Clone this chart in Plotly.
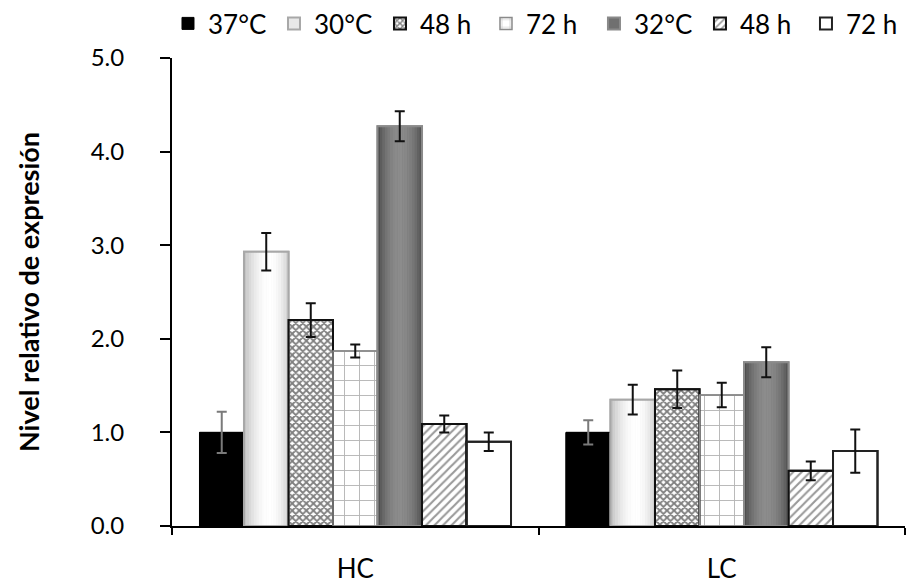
import plotly.graph_objects as go

# Relative expression levels by condition and group
groups = ["HC", "LC"]
series_names = ["37°C", "30°C", "48 h", "72 h", "32°C", "48 h", "72 h"]
values = [
    [1.00, 1.00],
    [2.93, 1.35],
    [2.20, 1.46],
    [1.87, 1.40],
    [4.27, 1.75],
    [1.09, 0.59],
    [0.90, 0.80],
]
errors = [
    [0.22, 0.13],
    [0.20, 0.16],
    [0.18, 0.20],
    [0.07, 0.13],
    [0.16, 0.16],
    [0.09, 0.10],
    [0.10, 0.23],
]

FONT = "Lato"
n_series = len(series_names)
group_span = 0.85
bar_w = group_span / n_series

# Per-series fill styles
styles = [
    dict(color="#000000", line="#000000", lw=1, pattern=None, grad=None, ecolor="#7a7a7a"),
    dict(color="#e8e8e8", line="#a8a8a8", lw=2, pattern=None, grad=(190, 255, 0.58, 205), ecolor="#111111"),
    dict(color="#ffffff", line="#111111", lw=2,
         pattern=dict(shape="x", fgcolor="#000000", bgcolor="#ffffff", size=5, solidity=0.6), grad=None, ecolor="#111111"),
    dict(color="#ffffff", line="#8a8a8a", lw=1.5,
         pattern=dict(shape="+", fgcolor="#6a6a6a", bgcolor="#ffffff", size=15, solidity=0.12), grad=None, ecolor="#111111"),
    dict(color="#707070", line="#8a8a8a", lw=2, pattern=None, grad=(72, 140, 0.5, 80), ecolor="#111111"),
    dict(color="#ffffff", line="#111111", lw=2,
         pattern=dict(shape="/", fgcolor="#333333", bgcolor="#ffffff", size=6, solidity=0.35), grad=None, ecolor="#111111"),
    dict(color="#ffffff", line="#222222", lw=2, pattern=None, grad=None, ecolor="#111111"),
]

# First four entries in one legend block, the rest in a second block
legend_of = ["legend", "legend", "legend", "legend", "legend2", "legend2", "legend2"]

fig = go.Figure()

# Base bars (these also provide the legend entries)
for k, name in enumerate(series_names):
    st = styles[k]
    marker = dict(color=st["color"], line=dict(color=st["line"], width=st["lw"]))
    if st["pattern"]:
        marker["pattern"] = st["pattern"]
    fig.add_trace(go.Bar(
        x=groups, y=values[k], name=name, marker=marker,
        offset=-group_span / 2 + k * bar_w, width=bar_w,
        showlegend=True, legendrank=k + 1, legend=legend_of[k],
    ))

# Shaded (gradient-like) bars built from thin vertical strips
n_strips = 18
for k in range(n_series):
    st = styles[k]
    if not st["grad"]:
        continue
    lo, hi, peak, right = st["grad"]
    for i in range(n_strips):
        t = (i + 0.5) / n_strips
        if t <= peak:
            v = lo + (hi - lo) * (1 - ((peak - t) / peak) ** 2)
        else:
            v = right + (hi - right) * (1 - ((t - peak) / (1 - peak)) ** 2)
        c = int(round(v))
        fig.add_trace(go.Bar(
            x=groups, y=values[k], showlegend=False, hoverinfo="skip",
            marker=dict(color=f"rgb({c},{c},{c})", line=dict(width=0)),
            offset=-group_span / 2 + k * bar_w + i * bar_w / n_strips,
            width=bar_w / n_strips * 1.08,
        ))

# Outlines and error bars on top
for k in range(n_series):
    st = styles[k]
    fig.add_trace(go.Bar(
        x=groups, y=values[k], showlegend=False, hoverinfo="skip",
        marker=dict(color="rgba(0,0,0,0)", line=dict(color=st["line"], width=st["lw"])),
        offset=-group_span / 2 + k * bar_w, width=bar_w,
        error_y=dict(type="data", array=errors[k], visible=True,
                     color=st["ecolor"], thickness=2, width=5),
    ))

legend_common = dict(
    orientation="h", xref="container", yref="container",
    xanchor="left", y=1.0, yanchor="top",
    font=dict(size=26, family=FONT), traceorder="normal",
    itemwidth=30, tracegroupgap=0, bgcolor="rgba(0,0,0,0)",
    entrywidth=61, entrywidthmode="pixels",
)

fig.update_layout(
    barmode="overlay",
    width=911, height=586,
    margin=dict(l=172, r=6, t=58, b=60, autoexpand=False),
    paper_bgcolor="white", plot_bgcolor="white",
    font=dict(family=FONT, color="#000000"),
    legend=dict(x=0.1844, **legend_common),
    legend2=dict(x=0.652, **legend_common),
    xaxis=dict(
        type="category", range=[-0.5, 1.5], automargin=False,
        showline=True, linecolor="#000000", linewidth=2,
        ticks="outside", tickson="boundaries", ticklen=7, tickwidth=1.5, tickcolor="#000000",
        tickfont=dict(size=26, family=FONT), ticklabelstandoff=19,
        showgrid=False, zeroline=False,
    ),
    yaxis=dict(
        range=[0, 5], dtick=1, tickformat=".1f", automargin=False,
        showline=True, linecolor="#000000", linewidth=2,
        ticks="outside", ticklen=10, tickwidth=1.5, tickcolor="#000000",
        tickfont=dict(size=24, family=FONT), ticklabelstandoff=31,
        showgrid=False, zeroline=False,
        title=dict(text="<b>Nivel relativo de expresión</b>", font=dict(size=27, family=FONT), standoff=43),
    ),
)

fig.write_html("out.html")
